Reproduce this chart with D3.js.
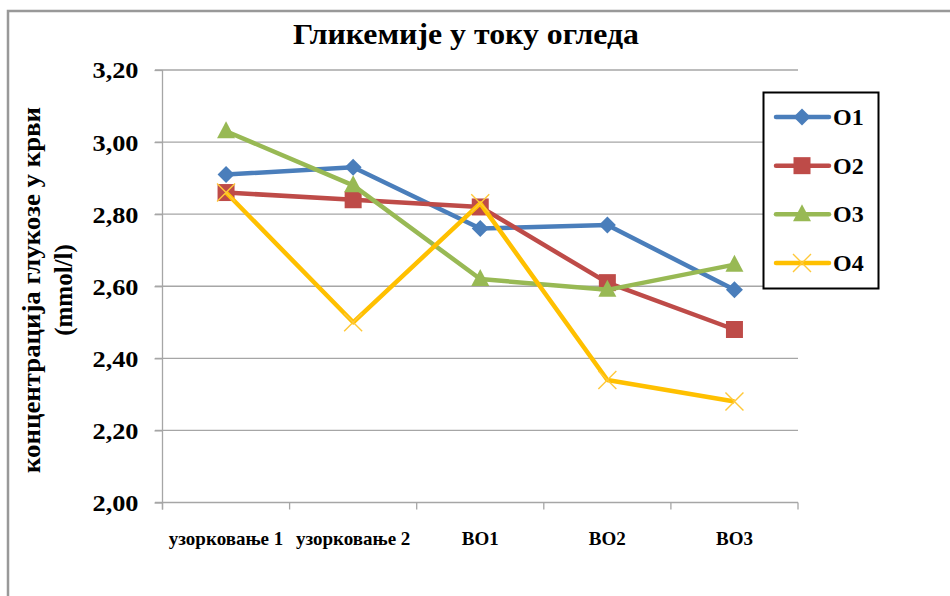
<!DOCTYPE html>
<html>
<head>
<meta charset="utf-8">
<script src="https://cdn.jsdelivr.net/npm/d3@7.9.0/dist/d3.min.js"></script>
<style>
  body { margin: 0; background: #fff; }
  svg { display: block; }
</style>
</head>
<body>
<svg id="chart" width="950" height="596" font-family="'Liberation Serif', 'Times New Roman', serif" font-weight="bold"></svg>
<script>
const categories = ['узорковање 1', 'узорковање 2', 'ВО1', 'ВО2', 'ВО3'];
const seriesNames = ['О1', 'О2', 'О3', 'О4'];
const o1 = [2.91, 2.93, 2.76, 2.77, 2.59];
const o2 = [2.86, 2.84, 2.82, 2.61, 2.48];
const o3 = [3.03, 2.88, 2.62, 2.59, 2.66];
const o4 = [2.86, 2.50, 2.83, 2.34, 2.28];
const yTicks = [2.0, 2.2, 2.4, 2.6, 2.8, 3.0, 3.2];

const serif = "'Liberation Serif', 'Times New Roman', serif";
const colors = ['#4a7ebb', '#be4b48', '#98b954', '#ffc000'];
const shapes = ['diamond', 'square', 'triangle', 'cross'];
const series = [o1, o2, o3, o4].map((v, i) => ({ name: seriesNames[i], values: v, color: colors[i], shape: shapes[i] }));

const svg = d3.select('#chart');

// chart frame (only top and left edges visible)
svg.append('path')
  .attr('d', 'M8,596 V11 H950')
  .attr('fill', 'none')
  .attr('stroke', '#999')
  .attr('stroke-width', 2.5);

const x = d3.scaleBand().domain(categories).range([162.5, 798]).padding(0);
const y = d3.scaleLinear().domain([2.0, 3.2]).range([502.5, 70]);
const cx = d => x(d) + x.bandwidth() / 2;

// gridlines
svg.append('g').selectAll('line').data(yTicks).join('line')
  .attr('x1', 155).attr('x2', 798)
  .attr('y1', d => y(d)).attr('y2', d => y(d))
  .attr('stroke', '#a6a6a6').attr('stroke-width', 1.3);

// y axis
const fmt = d => d3.format('.2f')(d).replace('.', ',');
const yAxis = svg.append('g').attr('transform', 'translate(162.5,0)')
  .call(d3.axisLeft(y).tickValues(yTicks).tickFormat(fmt).tickSize(8).tickPadding(16))
  .attr('font-family', serif).attr('font-size', 24);
yAxis.select('.domain').remove();
yAxis.append('line').attr('y1', y(3.2)).attr('y2', y(2.0) + 7).attr('stroke', '#a6a6a6').attr('stroke-width', 1.3);
yAxis.selectAll('.tick line').attr('stroke', '#a6a6a6').attr('stroke-width', 1.3);
yAxis.selectAll('.tick text').attr('fill', '#000').attr('dy', '0.33em')
  .attr('textLength', 46).attr('lengthAdjust', 'spacingAndGlyphs');

// x axis
const xAxis = svg.append('g').attr('transform', `translate(0,${y(2.0)})`);
xAxis.selectAll('line.tk').data(categories.concat(['end'])).join('line')
  .attr('class', 'tk')
  .attr('x1', (d, i) => i < categories.length ? x(d) : x.range()[1])
  .attr('x2', (d, i) => i < categories.length ? x(d) : x.range()[1])
  .attr('y1', 0).attr('y2', 7)
  .attr('stroke', '#a6a6a6').attr('stroke-width', 1.3);
xAxis.selectAll('text').data(categories).join('text')
  .attr('x', d => cx(d)).attr('y', 42)
  .attr('text-anchor', 'middle')
  .attr('font-size', 19)
  .text(d => d);

// lines and markers
const line = d3.line().x((d, i) => cx(categories[i])).y(d => y(d));

function marker(g, shape, color) {
  if (shape === 'diamond') {
    g.append('path').attr('d', 'M0,-8.5 L8.5,0 L0,8.5 L-8.5,0 Z').attr('fill', color);
  } else if (shape === 'square') {
    g.append('rect').attr('x', -8.5).attr('y', -8.5).attr('width', 17).attr('height', 17).attr('fill', color);
  } else if (shape === 'triangle') {
    g.append('path').attr('d', 'M0,-10 L9,7 L-9,7 Z').attr('fill', color);
  } else {
    g.append('path').attr('d', 'M-9,-9 L9,9 M-9,9 L9,-9')
      .attr('stroke', '#ffc839').attr('stroke-width', 1.4).attr('fill', 'none');
  }
}

series.forEach(s => {
  const g = svg.append('g');
  g.append('path').datum(s.values)
    .attr('d', line)
    .attr('fill', 'none')
    .attr('stroke', s.color)
    .attr('stroke-width', 4.5)
    .attr('stroke-linejoin', 'round');
  s.values.forEach((v, i) => {
    const m = g.append('g').attr('transform', `translate(${cx(categories[i])},${y(v)})`);
    marker(m, s.shape, s.color);
  });
});

// title
svg.append('text')
  .attr('x', 466).attr('y', 44)
  .attr('text-anchor', 'middle')
  .attr('font-size', 29)
  .attr('textLength', 346).attr('lengthAdjust', 'spacingAndGlyphs')
  .text('Гликемије у току огледа');

// y axis title
const yt = svg.append('text')
  .attr('transform', 'translate(0,290) rotate(-90)')
  .attr('text-anchor', 'middle')
  .attr('font-size', 25);
yt.append('tspan').attr('x', 0).attr('y', 40)
  .attr('textLength', 366).attr('lengthAdjust', 'spacingAndGlyphs')
  .text('концентрација глукозе у крви');
yt.append('tspan').attr('x', 0).attr('y', 72).text('(mmol/l)');

// legend
const lg = svg.append('g');
lg.append('rect').attr('x', 763.5).attr('y', 92.5).attr('width', 115).attr('height', 196)
  .attr('fill', '#fff').attr('stroke', '#000').attr('stroke-width', 2);
const rowY = d3.scalePoint().domain(seriesNames).range([117, 263]);
series.forEach(s => {
  const r = lg.append('g').attr('transform', `translate(0,${rowY(s.name)})`);
  r.append('line').attr('x1', 776).attr('x2', 829).attr('stroke', s.color)
    .attr('stroke-width', 4.5).attr('stroke-linecap', 'round');
  const m = r.append('g').attr('transform', 'translate(802,0)');
  marker(m, s.shape, s.color);
  r.append('text').attr('x', 833).attr('y', 8).attr('font-size', 24).text(s.name);
});
</script>
</body>
</html>
